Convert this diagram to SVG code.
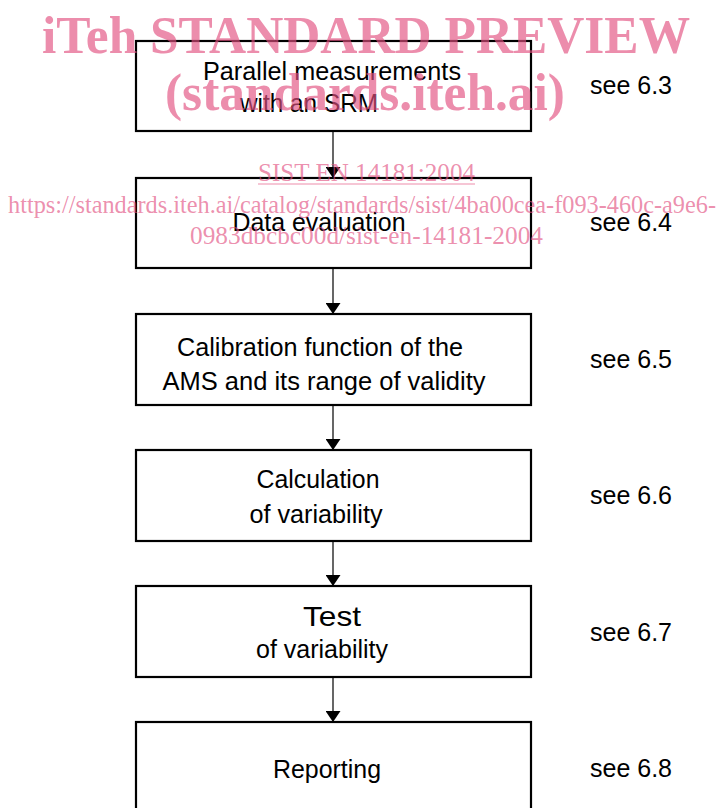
<svg xmlns="http://www.w3.org/2000/svg" width="721" height="808" viewBox="0 0 721 808">
<style>
.box{fill:#fff;stroke:#000;stroke-width:2.2}
.t{font-family:"Liberation Sans",Arial,sans-serif;font-size:25px;fill:#000;text-anchor:middle}
.s{font-family:"Liberation Sans",Arial,sans-serif;font-size:25px;fill:#000}
.c{stroke:#000;stroke-width:1.2;fill:none}
.wm{font-family:"Liberation Serif","Times New Roman",serif;fill:#E2507F;fill-opacity:0.65}
</style>
<defs>
<marker id="ah" markerWidth="11" markerHeight="15" refX="11" refY="7.5" orient="auto" markerUnits="userSpaceOnUse">
<path d="M0,0 L11,7.5 L0,15 Z" fill="#000"/>
</marker>
</defs>
<rect width="721" height="808" fill="#fff"/>
<g id="connectors">
<line class="c" x1="333" y1="131" x2="333" y2="178" marker-end="url(#ah)"/>
<line class="c" x1="333" y1="268" x2="333" y2="314" marker-end="url(#ah)"/>
<line class="c" x1="333" y1="405" x2="333" y2="450" marker-end="url(#ah)"/>
<line class="c" x1="333" y1="541" x2="333" y2="586" marker-end="url(#ah)"/>
<line class="c" x1="333" y1="677" x2="333" y2="722" marker-end="url(#ah)"/>
</g>
<g id="n1">
<rect class="box" x="136" y="41" width="395" height="90"/>
<text class="t" x="332" y="80" textLength="258" lengthAdjust="spacingAndGlyphs">Parallel measurements</text>
<text class="t" x="309" y="112" textLength="138" lengthAdjust="spacingAndGlyphs">with an SRM</text>
<text class="s" x="590" y="94" textLength="82" lengthAdjust="spacingAndGlyphs">see 6.3</text>
</g>
<g id="n2">
<rect class="box" x="136" y="178" width="395" height="90"/>
<text class="t" x="319" y="231" textLength="173" lengthAdjust="spacingAndGlyphs">Data evaluation</text>
<text class="s" x="590" y="231" textLength="82" lengthAdjust="spacingAndGlyphs">see 6.4</text>
</g>
<g id="n3">
<rect class="box" x="136" y="314" width="395" height="91"/>
<text class="t" x="320" y="356" textLength="286" lengthAdjust="spacingAndGlyphs">Calibration function of the</text>
<text class="t" x="324" y="390" textLength="323" lengthAdjust="spacingAndGlyphs">AMS and its range of validity</text>
<text class="s" x="590" y="368" textLength="82" lengthAdjust="spacingAndGlyphs">see 6.5</text>
</g>
<g id="n4">
<rect class="box" x="136" y="450" width="395" height="91"/>
<text class="t" x="318" y="488" textLength="123" lengthAdjust="spacingAndGlyphs">Calculation</text>
<text class="t" x="316" y="523" textLength="133" lengthAdjust="spacingAndGlyphs">of variability</text>
<text class="s" x="590" y="504" textLength="82" lengthAdjust="spacingAndGlyphs">see 6.6</text>
</g>
<g id="n5">
<rect class="box" x="136" y="586" width="395" height="91"/>
<text class="t" x="332" y="626" style="font-size:28px" textLength="58" lengthAdjust="spacingAndGlyphs">Test</text>
<text class="t" x="322" y="658" textLength="132" lengthAdjust="spacingAndGlyphs">of variability</text>
<text class="s" x="590" y="641" textLength="82" lengthAdjust="spacingAndGlyphs">see 6.7</text>
</g>
<g id="n6">
<rect class="box" x="136" y="722" width="395" height="92"/>
<text class="t" x="327" y="778" textLength="108" lengthAdjust="spacingAndGlyphs">Reporting</text>
<text class="s" x="590" y="777" textLength="82" lengthAdjust="spacingAndGlyphs">see 6.8</text>
</g>
<g id="watermark">
<text class="wm" x="42" y="53" font-size="52" font-weight="bold" textLength="648" lengthAdjust="spacingAndGlyphs">iTeh STANDARD PREVIEW</text>
<text class="wm" x="165" y="110" font-size="52" font-weight="bold" textLength="400" lengthAdjust="spacingAndGlyphs">(standards.iteh.ai)</text>
<text class="wm" x="258" y="181" font-size="25" textLength="217" lengthAdjust="spacingAndGlyphs">SIST EN 14181:2004</text>
<line x1="258" y1="184" x2="475" y2="184" stroke="#E2507F" stroke-opacity="0.65" stroke-width="1.2"/>
<text class="wm" x="8" y="213" font-size="25" textLength="708" lengthAdjust="spacingAndGlyphs">https://standards.iteh.ai/catalog/standards/sist/4ba00cea-f093-460c-a9e6-</text>
<text class="wm" x="190" y="244" font-size="25" textLength="353" lengthAdjust="spacingAndGlyphs">0983dbcbc00d/sist-en-14181-2004</text>
</g>
</svg>
